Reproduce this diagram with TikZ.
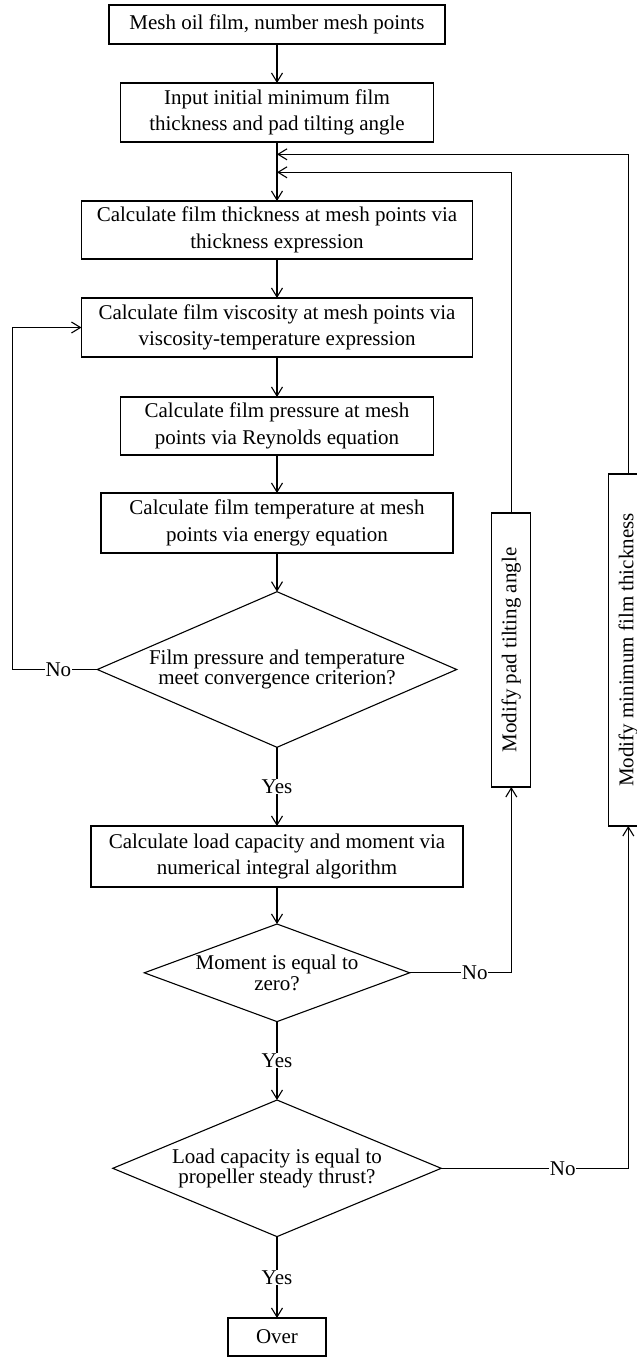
\documentclass[tikz,border=0pt]{standalone}
\usepackage{fontspec}
\setmainfont{Liberation Serif}
\usepackage{graphicx}
\usetikzlibrary{shapes.geometric,arrows.meta}
\tikzset{
  procbox/.style={draw, line width=1.1pt, inner sep=0pt, outer sep=0pt, align=center,
    font=\fontsize{21}{26.7}\selectfont},
  decision/.style={draw, diamond, line width=1.1pt, inner sep=0pt, outer sep=0pt},
  testtext/.style={align=center, inner sep=0pt, font=\fontsize{21}{20.5}\selectfont},
  flow/.style={line width=1.1pt, -{Straight Barb[length=9pt,width=11pt]}},
  answer/.style={fill=white, inner sep=0.5pt, font=\fontsize{21}{24}\selectfont}
}
\newcommand{\flowbox}[6]{
  \node [procbox, minimum width=#4pt, minimum height=#5pt] (#1) at (#2,#3) {#6};
}
\newcommand{\flowtest}[6]{
  \node [decision, minimum width=#4pt, minimum height=#5pt,
    label={[testtext]center:{#6}}] (#1) at (#2,#3) {};
}
\newcommand{\sidebox}[6]{
  \node [procbox, minimum width=#4pt, minimum height=#5pt] (#1) at (#2,#3) {\rotatebox{90}{#6}};
}
\begin{document}
\begin{tikzpicture}[x=1pt, y=-1pt]
\useasboundingbox (0,0) rectangle (637,1358);
\clip (0,0) rectangle (637,1358);
\flowbox{mesh}{277}{24.5}{336}{39}{Mesh oil film, number mesh points}
\flowbox{init}{277}{112.5}{313}{59}{Input initial minimum film\\thickness and pad tilting angle}
\flowbox{thick}{277}{230}{391}{58}{Calculate film thickness at mesh points via\\thickness expression}
\flowbox{visc}{277}{327.5}{391}{59}{Calculate film viscosity at mesh points via\\viscosity-temperature expression}
\flowbox{press}{277}{426}{313}{58}{Calculate film pressure at mesh\\points via Reynolds equation}
\flowbox{temp}{277}{523}{352}{60}{Calculate film temperature at mesh\\points via energy equation}
\flowtest{conv}{277}{669.5}{359.4}{155.6}{Film pressure and temperature\\meet convergence criterion?}
\flowbox{load}{277}{856.5}{372}{61}{Calculate load capacity and moment via\\numerical integral algorithm}
\flowtest{moment}{277}{972.8}{265.4}{97.6}{Moment is equal to\\zero?}
\flowtest{thrust}{277}{1168.3}{328.4}{136.6}{Load capacity is equal to\\propeller steady thrust?}
\flowbox{over}{277}{1337}{98}{38}{Over}
\sidebox{tilt}{511.3}{650}{39}{274}{Modify pad tilting angle}
\sidebox{gap}{628.3}{650}{40}{352}{Modify minimum film thickness}
% main line
\draw [flow] (mesh.south) -- (init.north);
\draw [flow] (init.south) -- (thick.north);
\draw [flow] (thick.south) -- (visc.north);
\draw [flow] (visc.south) -- (press.north);
\draw [flow] (press.south) -- (temp.north);
\draw [flow] (temp.south) -- (conv.north);
\draw [flow] (conv.south) -- node [answer] {Yes} (load.north);
\draw [flow] (load.south) -- (moment.north);
\draw [flow] (moment.south) -- node [answer] {Yes} (thrust.north);
\draw [flow] (thrust.south) -- node [answer] {Yes} (over.north);
% loops back
\coordinate (back1) at (277,154.3);
\coordinate (back2) at (277,172.3);
\coordinate (loop) at (12.7,500);
\draw [flow] (conv.west) -| node [answer, pos=0.23] {No} (loop) |- (visc.west);
\draw [flow] (moment.east) -| node [answer, pos=0.32] {No} (tilt.south);
\draw [flow] (thrust.east) -| node [answer, pos=0.325] {No} (gap.south);
\draw [flow] (tilt.north) |- (back2);
\draw [flow] (gap.north) |- (back1);
\end{tikzpicture}
\end{document}
